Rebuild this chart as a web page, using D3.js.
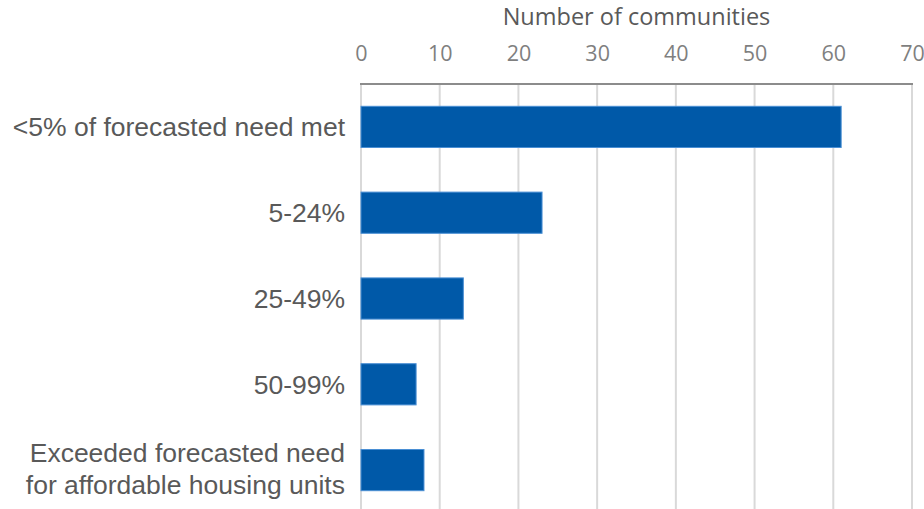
<!DOCTYPE html>
<html>
<head>
<meta charset="utf-8">
<script src="https://cdn.jsdelivr.net/npm/d3@7"></script>
<style>
  html, body { margin: 0; padding: 0; background: #ffffff; }
  svg { display: block; }
</style>
</head>
<body>
<svg id="chart" width="924" height="509"></svg>
<script>
// Categories (top to bottom) and number of communities in each
const categories = [
  ["<5% of forecasted need met"],
  ["5-24%"],
  ["25-49%"],
  ["50-99%"],
  ["Exceeded forecasted need", "for affordable housing units"]
];
const communities = [61, 23, 13, 7, 8];
const xTicks = [0, 10, 20, 30, 40, 50, 60, 70];
const axisTitle = "Number of communities";

const svg = d3.select("#chart");
const plot = { left: 361, right: 912, top: 84, bottom: 513 };

const x = d3.scaleLinear().domain([0, 70]).range([plot.left, plot.right]);
const y = d3.scaleBand()
  .domain(d3.range(categories.length))
  .range([plot.top, plot.bottom])
  .paddingInner(0.52)
  .paddingOuter(0.26);

// Vertical gridlines
svg.append("g")
  .selectAll("line")
  .data(xTicks)
  .join("line")
  .attr("x1", d => x(d)).attr("x2", d => x(d))
  .attr("y1", plot.top).attr("y2", plot.bottom)
  .attr("stroke", "#d9d9d9")
  .attr("stroke-width", 2);

// Bars
svg.append("g")
  .selectAll("rect")
  .data(communities)
  .join("rect")
  .attr("x", x(0))
  .attr("y", (d, i) => y(i))
  .attr("width", d => x(d) - x(0))
  .attr("height", y.bandwidth())
  .attr("fill", "#0059a8")
  .attr("stroke", "#4a8fd4")
  .attr("stroke-width", 1);

// Top axis with tick labels
const axis = svg.append("g")
  .attr("transform", `translate(0,${plot.top})`)
  .call(d3.axisTop(x).tickValues(xTicks).tickSize(0).tickPadding(23));
axis.select(".domain").remove();
axis.selectAll("text")
  .attr("font-family", "'Open Sans', sans-serif")
  .attr("font-size", "21.5px")
  .attr("fill", "#7f7f7f");

// Axis line
svg.append("line")
  .attr("x1", plot.left - 1).attr("x2", plot.right + 1)
  .attr("y1", plot.top).attr("y2", plot.top)
  .attr("stroke", "#8c8c8c")
  .attr("stroke-width", 2);

// Axis title
svg.append("text")
  .attr("x", (plot.left + plot.right) / 2)
  .attr("y", 25)
  .attr("text-anchor", "middle")
  .attr("font-family", "'Open Sans', sans-serif")
  .attr("font-size", "23.5px")
  .attr("fill", "#595959")
  .text(axisTitle);

// Category labels
const lineH = 31.5;
const labels = svg.append("g")
  .selectAll("text")
  .data(categories)
  .join("text")
  .attr("text-anchor", "end")
  .attr("font-family", "'Liberation Sans', Arial, sans-serif")
  .attr("font-size", "26.5px")
  .attr("fill", "#595959");
labels.each(function(lines, i) {
  const cy = y(i) + y.bandwidth() / 2;
  const first = cy + 9.5 - (lines.length - 1) * lineH / 2 - (lines.length > 1 ? 1.5 : 0);
  d3.select(this).selectAll("tspan")
    .data(lines)
    .join("tspan")
    .attr("x", 345)
    .attr("y", (d, j) => first + j * lineH)
    .text(d => d);
});
</script>
</body>
</html>
